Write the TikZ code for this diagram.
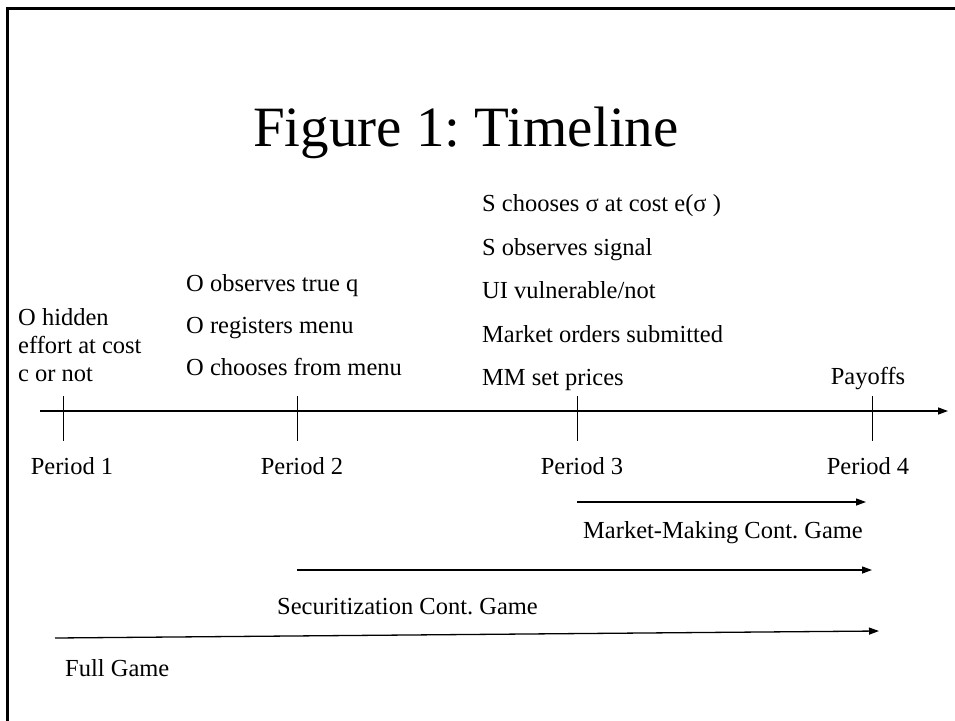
\documentclass[tikz,border=0pt]{standalone}
\usepackage{fontspec}
\setmainfont{Liberation Serif}
\usetikzlibrary{arrows.meta,positioning}
\frenchspacing

\begin{document}
\begin{tikzpicture}[x=1pt,y=-1pt,
  txt/.style={inner sep=0pt,anchor=base west,font=\fontsize{24.5}{28}\selectfont},
  ctxt/.style={txt,anchor=base},
  tick/.style={line width=1pt},
  span/.style={line width=1.3pt,-{Triangle[length=10pt,width=7pt]}}]
  \useasboundingbox (0,0) rectangle (955,720);
  % Frame
  \draw[line width=3pt] (7,725) -- (7,8) -- (960,8);
  % Title
  \node (title) [inner sep=0pt,anchor=base,font=\fontsize{57}{60}\selectfont] at (466,146) {Figure 1: Timeline};
  % Coordinates
  \coordinate (axis-start) at (40,411);
  \coordinate (axis-end) at (948,411);
  \coordinate (p1) at (63,411);
  \coordinate (p2) at (297,411);
  \coordinate (p3) at (577,411);
  \coordinate (p4) at (872,411);
  \coordinate (mm-start) at (577,502);
  \coordinate (mm-end) at (866,502);
  \coordinate (sec-start) at (297,570);
  \coordinate (sec-end) at (872,570);
  \coordinate (full-start) at (55,638);
  \coordinate (full-end) at (879,631);
  % Timeline
  \draw[span] (axis-start) -- (axis-end);
  \foreach \p in {p1,p2,p3,p4}
    \draw[tick] ([yshift=15pt]\p) -- ([yshift=-30pt]\p);
  % Period labels
  \node (per1) [ctxt] at (72,474) {Period 1};
  \node (per2) [ctxt] at (302,474) {Period 2};
  \node (per3) [ctxt] at (582,474) {Period 3};
  \node (per4) [ctxt] at (868,474) {Period 4};
  % Period 1 events
  \node (hidden) [txt] at (18,325) {O hidden};
  \node (effort) [txt] at (18,353) {effort at cost};
  \node (cnot) [txt] at (18,381) {c or not};
  % Period 2 events
  \node (observes) [txt] at (186,291) {O observes true q};
  \node (registers) [txt] at (186,333) {O registers menu};
  \node (chooses) [txt] at (186,375) {O chooses from menu};
  % Period 3 events
  \node (sigma) [txt] at (482,211) {S chooses σ at cost e(σ )};
  \node (signal) [txt] at (482,255) {S observes signal};
  \node (ui) [txt] at (482,298) {UI vulnerable/not};
  \node (orders) [txt] at (482,342) {Market orders submitted};
  \node (prices) [txt] at (482,385) {MM set prices};
  % Period 4 events
  \node (payoffs) [ctxt] at (868,384) {Payoffs};
  % Games
  \draw[span] (mm-start) -- (mm-end);
  \node (mm) [ctxt] at (723,538) {Market-Making Cont. Game};
  \draw[span] (sec-start) -- (sec-end);
  \node (sec) [txt] at (277,614) {Securitization Cont. Game};
  \draw[span] (full-start) -- (full-end);
  \node (full) [txt] at (65,676) {Full Game};
\end{tikzpicture}
\end{document}
